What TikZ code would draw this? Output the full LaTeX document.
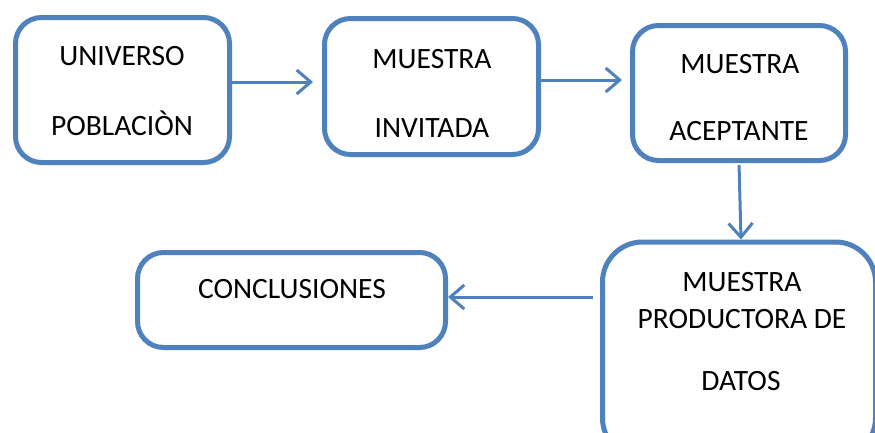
\documentclass[tikz,border=0pt]{standalone}
\usepackage{fontspec}
\setmainfont{Carlito}
\usetikzlibrary{arrows.meta}
\definecolor{boxblue}{HTML}{4F81BD}
\tikzset{
  box/.style={draw=boxblue, line width=5pt, rounded corners=26pt, fill=white, inner sep=0pt},
  bigbox/.style={box, rounded corners=40pt},
  lbl/.style={font=\fontsize{29.5}{35}\selectfont, inner sep=0pt, anchor=center},
  arr/.style={draw=boxblue, line width=3pt, -{Straight Barb[length=14pt,width=24pt,line width=3pt]}}
}
\begin{document}
\begin{tikzpicture}[x=1pt,y=-1pt]
\useasboundingbox (0,0) rectangle (875,432);
\clip (0,0) rectangle (875,432);
\fill[white] (0,0) rectangle (875,432);
% boxes
\node[box, minimum width=214pt, minimum height=145pt] (b1) at (122.5,90) {};
\node[box, minimum width=214pt, minimum height=136pt] (b2) at (431.5,86.5) {};
\node[box, minimum width=213pt, minimum height=135pt] (b3) at (739,93) {};
\node[bigbox, minimum width=273pt, minimum height=216pt] (b4) at (739,350) {};
\node[box, minimum width=308pt, minimum height=95pt] (b5) at (291.5,300) {};
% labels
\node[lbl] (t1a) at (122,56) {UNIVERSO};
\node[lbl] (t1b) at (122,123) {POBLACIÒN};
\node[lbl] (t2a) at (432,59) {MUESTRA};
\node[lbl] (t2b) at (432,128) {INVITADA};
\node[lbl] (t3a) at (740,64) {MUESTRA};
\node[lbl] (t3b) at (739,131) {ACEPTANTE};
\node[lbl] (t4a) at (742,282) {MUESTRA};
\node[lbl] (t4b) at (742,319) {PRODUCTORA DE};
\node[lbl] (t4c) at (741,381) {DATOS};
\node[lbl] (t5) at (292,289) {CONCLUSIONES};
% connectors
\draw[arr, shorten >=9pt] (b1.east |- 0,82) -- (b2.west |- 0,82);
\draw[arr, shorten >=8pt] (b2.east |- 0,80) -- (b3.west |- 0,80);
\draw[arr, shorten <=2pt] (b3.south) -- ([xshift=2pt]b4.north);
\draw[arr, shorten <=7pt] (b4.west |- 0,297) -- (b5.east |- 0,297);
\end{tikzpicture}
\end{document}
